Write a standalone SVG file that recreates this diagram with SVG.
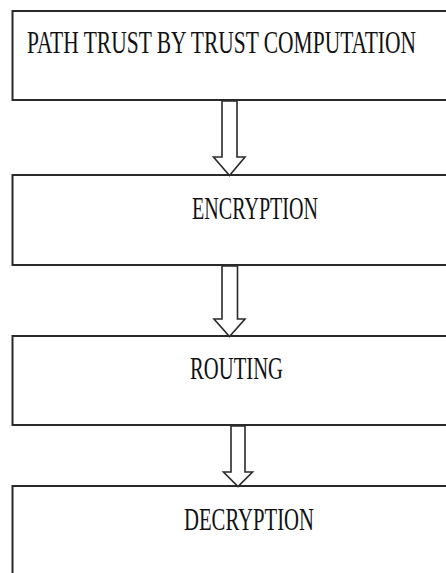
<svg xmlns="http://www.w3.org/2000/svg" width="446" height="573" viewBox="0 0 446 573">
  <style>
    .box { fill: #ffffff; stroke: #2a2a2a; stroke-width: 2; }
    .arrow { fill: #ffffff; stroke: #2a2a2a; stroke-width: 1.6; stroke-linejoin: miter; }
    .label { font-family: "Liberation Serif", "Times New Roman", serif; font-size: 32px; fill: #111111; }
  </style>
  <rect width="446" height="573" fill="#ffffff"/>

  <g id="node-path-trust">
    <rect class="box" x="12.5" y="11" width="450" height="89"/>
    <text class="label" x="27" y="53" textLength="389" lengthAdjust="spacingAndGlyphs">PATH TRUST BY TRUST COMPUTATION</text>
  </g>

  <g id="node-encryption">
    <rect class="box" x="12.5" y="175" width="450" height="90"/>
    <text class="label" x="192" y="219" textLength="126" lengthAdjust="spacingAndGlyphs">ENCRYPTION</text>
  </g>

  <g id="node-routing">
    <rect class="box" x="12.5" y="336" width="450" height="89"/>
    <text class="label" x="190" y="379" textLength="93" lengthAdjust="spacingAndGlyphs">ROUTING</text>
  </g>

  <g id="node-decryption">
    <rect class="box" x="12.5" y="486" width="450" height="100"/>
    <text class="label" x="184" y="530" textLength="130" lengthAdjust="spacingAndGlyphs">DECRYPTION</text>
  </g>

  <g id="connectors">
    <polygon class="arrow" points="222,101 222,157 213.5,157 229.5,175.5 245,157 237,157 237,101"/>
    <polygon class="arrow" points="222,266 222,319 214,319 229.5,336.5 245,319 237.5,319 237.5,266"/>
    <polygon class="arrow" points="231,426 231,472 223.5,472 238,486.5 252.5,472 245,472 245,426"/>
  </g>
</svg>
